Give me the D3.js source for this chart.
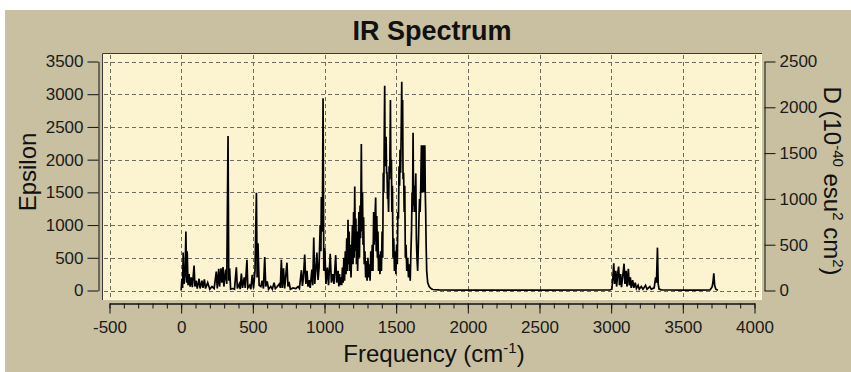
<!DOCTYPE html>
<html>
<head>
<meta charset="utf-8">
<script src="https://cdn.jsdelivr.net/npm/d3@7/dist/d3.min.js"></script>
<style>
	body { margin: 0; background: #ffffff; }
	svg { display: block; font-family: "Liberation Sans", Arial, sans-serif; }
	.tick text { font-size: 17px; fill: #1a1a1a; }
	.grid line { stroke: #6e6b60; stroke-dasharray: 4,3; }
</style>
</head>
<body>
<svg id="chart" width="851" height="372"></svg>
<script>

// spectrum: frequency (cm-1) and epsilon, in drawing order
var freq = [0, 5, 10, 14, 20, 28, 33, 38, 42, 48, 55, 62, 70, 78, 90, 96, 104, 112, 125, 132,
	145, 152, 162, 170, 185, 200, 215, 230, 245, 252, 262, 268, 278, 284, 292, 298,
	310, 318, 327, 332, 338, 345, 360, 372, 385, 392, 405, 412, 420, 428, 440, 447, 459, 465, 478, 486, 496,
	505, 515, 525, 530, 536, 544, 556, 565, 574, 583, 590, 600, 610, 625, 636, 648, 657, 670, 685, 692, 699,
	706, 714, 722, 738, 745, 752, 762, 780, 800, 815, 825, 839, 846, 853, 862, 870, 878, 885, 892, 900,
	912, 918, 925, 932, 940, 947, 955, 962, 970, 975, 978, 982, 986, 990, 995, 1002, 1010, 1020, 1028, 1040, 1048,
	1058, 1066, 1078, 1085, 1095,
	1100, 1105, 1110, 1115, 1120, 1125, 1130, 1135, 1140, 1145, 1150, 1155, 1160, 1164, 1168, 1172, 1176,
	1180, 1185, 1190, 1195, 1199, 1203, 1207, 1211, 1215, 1219, 1223, 1227, 1231, 1235, 1240, 1244, 1248,
	1252, 1257, 1261, 1265, 1269, 1273, 1277, 1282, 1287, 1292, 1297, 1303, 1308, 1313, 1318, 1323, 1328,
	1333, 1338, 1343, 1347, 1352, 1357, 1361, 1365, 1369, 1373, 1377, 1382, 1387, 1392, 1397, 1402, 1406,
	1410, 1414, 1417, 1420, 1423, 1426, 1430, 1433, 1436, 1440, 1443, 1447, 1451, 1455, 1460, 1463, 1467,
	1470, 1474, 1478, 1483, 1488, 1493, 1498, 1503, 1508, 1512, 1516, 1520, 1524, 1527, 1531, 1535, 1539,
	1542, 1545, 1548, 1552, 1556, 1560, 1564, 1569, 1574, 1580, 1586, 1592, 1598, 1603, 1607, 1611, 1614,
	1618, 1621, 1625, 1629, 1633, 1637, 1641, 1645, 1650, 1655, 1659, 1663, 1667, 1671, 1676, 1679, 1683,
	1688, 1691, 1695, 1700, 1703, 1706, 1709, 1713, 1720, 1730, 1745, 1757, 1800, 2000, 2500, 2990,
	3005, 3012, 3018, 3024, 3032, 3038, 3045, 3052, 3058, 3066, 3072, 3080, 3090, 3096, 3104, 3110, 3120,
	3126, 3134, 3140, 3150, 3158, 3168, 3176, 3188, 3196, 3210, 3222, 3240, 3250, 3270, 3280, 3300, 3310,
	3316, 3323, 3328, 3334, 3350, 3400, 3500, 3600, 3690, 3705, 3712, 3716, 3722, 3730, 3745];

var epsilon = [0, 180, 40, 580, 100, 300, 900, 120, 600, 80, 250, 60, 200, 50, 380, 60, 150, 30, 180, 30,
	150, 40, 170, 30, 120, 20, 60, 30, 290, 30, 330, 60, 340, 120, 360, 60,
	320, 100, 2360, 150, 340, 20, 30, 20, 355, 30, 100, 20, 260, 40, 200, 40, 470, 40, 80, 20, 240,
	30, 300, 1495, 200, 720, 80, 60, 150, 30, 510, 60, 140, 20, 60, 20, 120, 30, 60, 100, 40, 470,
	40, 340, 30, 425, 60, 130, 20, 40, 30, 60, 30, 310, 70, 200, 550, 100, 300, 60, 160, 40,
	320, 80, 810, 100, 330, 580, 160, 350, 1000, 600, 1430, 900, 1300, 2940, 300, 650, 100, 350, 80, 560, 120,
	250, 100, 540, 120, 300,
	60, 250, 80, 200, 80, 350, 120, 500, 150, 600, 250, 800, 300, 1080, 400, 900, 300,
	700, 200, 600, 1000, 400, 1200, 500, 1590, 600, 1100, 400, 900, 300, 700, 1200, 500, 1300,
	800, 2240, 900, 1500, 700, 1120, 400, 600, 200, 450, 150, 500, 200, 400, 150, 600, 300,
	700, 300, 1200, 700, 1100, 1420, 600, 1140, 500, 900, 300, 550, 250, 600, 300, 900, 500,
	1800, 1500, 2400, 3130, 1900, 2300, 2350, 1800, 1800, 1400, 1500, 1200, 1900, 1700, 2910, 1800, 2000,
	1200, 1600, 500, 800, 300, 600, 250, 700, 400, 1200, 1100, 1900, 1600, 2150, 1800, 2400, 3190,
	2300, 2910, 1700, 1800, 1200, 1600, 500, 700, 300, 500, 200, 400, 150, 600, 900, 1500, 1200,
	2410, 1300, 1600, 1200, 1500, 1790, 800, 500, 300, 700, 1100, 1400, 1200, 1500, 2220, 1500, 1800,
	2220, 1500, 1900, 2220, 1500, 1200, 700, 300, 120, 60, 25, 15, 10, 5, 5, 8,
	20, 200, 415, 100, 300, 60, 250, 365, 80, 250, 50, 200, 410, 100, 300, 60, 330,
	80, 200, 40, 160, 40, 120, 30, 80, 20, 60, 20, 80, 20, 60, 20, 40, 200,
	120, 655, 100, 20, 10, 8, 5, 5, 10, 60, 160, 263, 80, 20, 5];

var freqTicks = [-500, 0, 500, 1000, 1500, 2000, 2500, 3000, 3500, 4000];
var epsTicks = [0, 500, 1000, 1500, 2000, 2500, 3000, 3500];
var dipoleTicks = [0, 500, 1000, 1500, 2000, 2500];

var plot = { left: 102, top: 53, right: 762, bottom: 300 };

var svg = d3.select('#chart');

var x = d3.scaleLinear().domain([-500, 4000]).range([109.5, 754.5]);
var yEps = d3.scaleLinear().domain([0, 3500]).range([290.5, 61.5]);
var yDip = d3.scaleLinear().domain([0, 2500]).range([290.5, 61.5]);

function plain(d) { return String(d); } // keep the hyphen minus and no thousands comma

// panel
svg.append('rect')
	.attr('x', 5).attr('y', 10)
	.attr('width', 846).attr('height', 362)
	.attr('fill', '#c8c0a0');

svg.append('text')
	.attr('x', 432).attr('y', 40)
	.attr('text-anchor', 'middle')
	.style('font-size', '27px')
	.style('font-weight', 'bold')
	.attr('fill', '#111')
	.text('IR Spectrum');

// plot area
svg.append('rect')
	.attr('x', plot.left).attr('y', plot.top)
	.attr('width', plot.right - plot.left).attr('height', plot.bottom - plot.top)
	.attr('fill', '#fcf3d0');

svg.append('path')
	.attr('d', 'M' + (plot.left + 0.5) + ',' + plot.bottom + 'V' + (plot.top + 0.5) + 'H' + plot.right)
	.attr('fill', 'none')
	.attr('stroke', '#3a3a3a');

svg.append('path')
	.attr('d', 'M' + (plot.left + 1) + ',' + (plot.bottom - 0.5) + 'H' + (plot.right - 0.5) + 'V' + (plot.top + 1))
	.attr('fill', 'none')
	.attr('stroke', '#fffbe8');

// grid
var grid = svg.append('g').attr('class', 'grid');

grid.selectAll('line.v').data(freqTicks).enter().append('line')
	.attr('class', 'v')
	.attr('x1', function(d) { return Math.round(x(d)) + 0.5; })
	.attr('x2', function(d) { return Math.round(x(d)) + 0.5; })
	.attr('y1', plot.top + 2).attr('y2', plot.bottom - 1);

grid.selectAll('line.h').data(epsTicks).enter().append('line')
	.attr('class', 'h')
	.attr('y1', function(d) { return Math.round(yEps(d)) + 0.5; })
	.attr('y2', function(d) { return Math.round(yEps(d)) + 0.5; })
	.attr('x1', plot.left + 2).attr('x2', plot.right - 1);

// spectrum
svg.append('clipPath').attr('id', 'plotClip')
	.append('rect')
		.attr('x', plot.left + 1).attr('y', plot.top + 1)
		.attr('width', plot.right - plot.left - 2).attr('height', plot.bottom - plot.top - 2);

var line = d3.line()
	.x(function(i) { return x(freq[i]); })
	.y(function(i) { return yEps(epsilon[i]); });

svg.append('path')
	.attr('clip-path', 'url(#plotClip)')
	.attr('d', line(d3.range(freq.length)))
	.attr('fill', 'none')
	.attr('stroke', '#000')
	.attr('stroke-width', 1.7)
	.attr('stroke-linejoin', 'miter');

// axes
function styleAxis(g) {
	g.selectAll('path.domain').attr('stroke', '#111');
	g.selectAll('.tick line').attr('stroke', '#111');
}

svg.append('g')
	.attr('transform', 'translate(98.5,0)')
	.call(d3.axisLeft(yEps).tickValues(epsTicks).tickFormat(plain).tickSize(11).tickSizeOuter(0).tickPadding(4))
	.call(styleAxis);

svg.append('g')
	.attr('transform', 'translate(764.5,0)')
	.call(d3.axisRight(yDip).tickValues(dipoleTicks).tickFormat(plain).tickSize(11).tickSizeOuter(0).tickPadding(4))
	.call(styleAxis);

svg.append('g')
	.attr('transform', 'translate(0,303.5)')
	.call(d3.axisBottom(x).tickValues(d3.range(-500, 4001, 100)).tickFormat('').tickSize(5).tickSizeOuter(0))
	.call(styleAxis);

svg.append('g')
	.attr('transform', 'translate(0,303.5)')
	.call(d3.axisBottom(x).tickValues(freqTicks).tickFormat(plain).tickSize(10).tickSizeOuter(0).tickPadding(7))
	.call(styleAxis);

// axis titles
svg.append('text')
	.attr('transform', 'translate(36,172) rotate(-90)')
	.attr('text-anchor', 'middle')
	.style('font-size', '24px')
	.attr('fill', '#111')
	.text('Epsilon');

var xTitle = svg.append('text')
	.attr('x', 434).attr('y', 362)
	.attr('text-anchor', 'middle')
	.style('font-size', '24px')
	.attr('fill', '#111');
xTitle.append('tspan').text('Frequency (cm');
xTitle.append('tspan').attr('dy', -9).style('font-size', '15px').text('-1');
xTitle.append('tspan').attr('dy', 9).text(')');

var yTitle = svg.append('text')
	.attr('transform', 'translate(824,181) rotate(90)')
	.attr('text-anchor', 'middle')
	.style('font-size', '24px')
	.attr('fill', '#111');
yTitle.append('tspan').text('D (10');
yTitle.append('tspan').attr('dy', -9).style('font-size', '15px').text('-40');
yTitle.append('tspan').attr('dy', 9).text(' esu');
yTitle.append('tspan').attr('dy', -9).style('font-size', '15px').text('2');
yTitle.append('tspan').attr('dy', 9).text(' cm');
yTitle.append('tspan').attr('dy', -9).style('font-size', '15px').text('2');
yTitle.append('tspan').attr('dy', 9).text(')');

</script>
</body>
</html>
